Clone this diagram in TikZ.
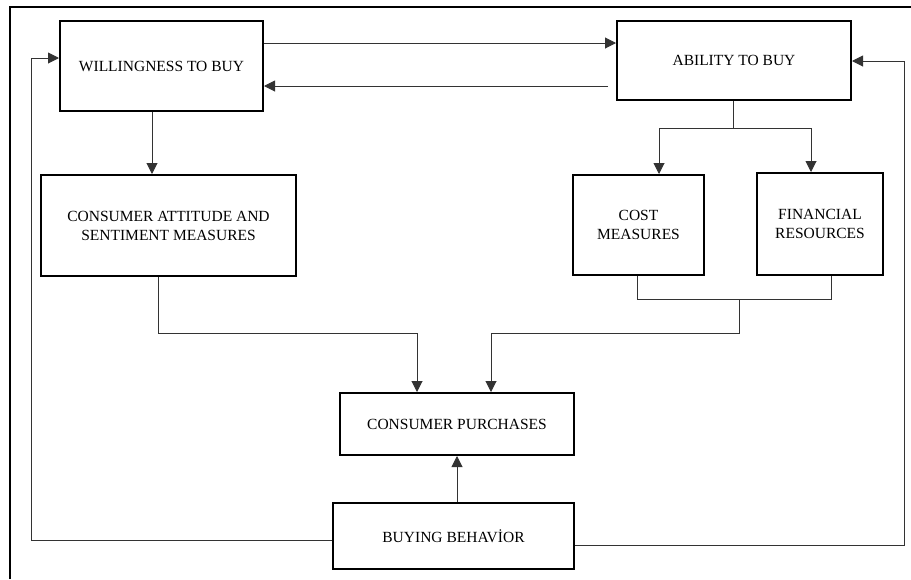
\documentclass[tikz,border=0pt]{standalone}
\usepackage{fontspec}
\setmainfont{Liberation Serif}
\usetikzlibrary{arrows.meta}

\begin{document}
\begin{tikzpicture}[x=1pt, y=-1pt,
  box/.style = {shape=rectangle, draw, line width=2pt, align=center,
    inner sep=0pt, font=\fontsize{15.5}{19}\selectfont},
  link/.style = {draw=black!80, line width=1pt},
  arr/.style = {link, -{Triangle[length=11pt, width=11pt]}}]
    \useasboundingbox (0,0) rectangle (911,579);
    \draw[line width=1.2pt] (10,579) -- (10,7) -- (911,7);

    \node[box, minimum width=203pt, minimum height=90pt] (will) at (161.5,66) {WILLINGNESS TO BUY};
    \node[box, minimum width=234pt, minimum height=79pt] (abil) at (734,60.5) {ABILITY TO BUY};
    \node[box, minimum width=255pt, minimum height=101pt] (att) at (168.5,225.5) {CONSUMER ATTITUDE AND\\ SENTIMENT MEASURES};
    \node[box, minimum width=131pt, minimum height=100pt] (cost) at (638.5,225) {COST\\ MEASURES};
    \node[box, minimum width=126pt, minimum height=102pt] (fin) at (820,224) {FINANCIAL\\ RESOURCES};
    \node[box, minimum width=234pt, minimum height=62pt] (purch) at (457,424) {CONSUMER PURCHASES};
    \node[box, minimum width=241pt, minimum height=66pt] (buy) at (453.5,536) {BUYING BEHAV\.{I}OR};

    % willingness <-> ability
    \coordinate (top) at (0,43);
    \coordinate (back) at (608,86);
    \draw[arr] (will.east |- top) -- (abil.west |- top);
    \draw[arr] (back) -- (will.east |- back);

    % willingness side
    \draw[arr] ([xshift=-9.5pt]will.south) -- ([xshift=-16.5pt]att.north);

    % ability side
    \coordinate (ab) at (733,128);
    \draw[link] (abil.south -| ab) -- (ab);
    \draw[arr] (ab) -| ([xshift=20.5pt]cost.north);
    \draw[arr] (ab) -| ([xshift=-9pt]fin.north);

    % into purchases
    \coordinate (cf) at (739,299);
    \coordinate (mid) at (457,333);
    \draw[link] ([xshift=-1.5pt]cost.south) |- ([xshift=11pt]fin.south |- cf) -- ([xshift=11pt]fin.south);
    \draw[arr] (cf) |- (mid -| 491,0) -- ([xshift=34pt]purch.north);
    \draw[arr] ([xshift=-10.5pt]att.south) |- (mid -| 417,0) -- ([xshift=-40pt]purch.north);
    \draw[arr] (buy.north -| purch.south) -- (purch.south);

    % feedback
    \coordinate (lret) at (31,58);
    \coordinate (rret) at (904,61);
    \draw[arr] ([yshift=-4pt]buy.west) -| (lret) -- (will.west |- lret);
    \draw[arr] ([yshift=-9pt]buy.east) -| (rret) -- (abil.east |- rret);
\end{tikzpicture}
\end{document}
